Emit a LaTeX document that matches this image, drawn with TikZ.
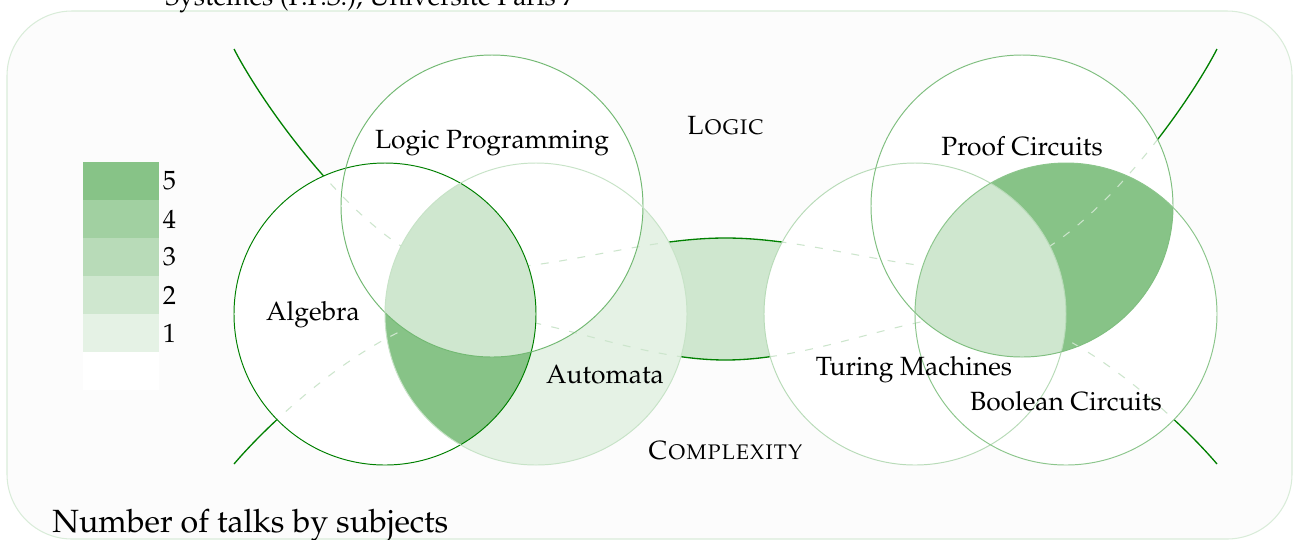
\documentclass[tikz,border=0pt]{standalone}
\usepackage[T1]{fontenc}
\usepackage{mathpazo}

\colorlet{talks}{green!50!black}
\colorlet{lvl0}{white}
\colorlet{lvl1}{talks!10!white}
\colorlet{lvl2}{talks!19!white}
\colorlet{lvl3}{talks!28!white}
\colorlet{lvl4}{talks!37!white}
\colorlet{lvl5}{talks!47!white}
\newcommand{\vennrad}{151}
% curvas de los dominios
\newcommand{\logicline}{(234,49) .. controls (268,115) and (380,268) .. (465,270)
    .. controls (560,270) and (640,238) .. (725.5,238)
    .. controls (811,238) and (891,270) .. (986,270)
    .. controls (1071,268) and (1183,115) .. (1217,49)}
\newcommand{\cplxline}{(234,464) .. controls (280,410) and (390,314) .. (465,314)
    .. controls (545,314) and (635,360) .. (725.5,360)
    .. controls (816,360) and (906,314) .. (986,314)
    .. controls (1061,314) and (1171,410) .. (1217,464)}

\begin{document}
\begin{tikzpicture}[x=0.02cm, y=-0.02cm,
    frame/.style={draw=talks!15!white, fill=black!1, line width=0.6pt, rounded corners=1.3cm},
    border/.style={draw=talks, line width=0.75pt},
    inner/.style={draw=talks!20!white, line width=0.6pt, dash pattern=on 4.5pt off 6pt},
    rim/.style={line width=0.55pt},
    lbl/.style={anchor=base, font=\fontsize{15}{18}\selectfont},
    key/.style={anchor=north west, minimum width=1.52cm, minimum height=0.76cm, inner sep=0pt, outer sep=0pt}]
    \useasboundingbox (0,0) rectangle (1296,539);

    % Marco
    \draw[frame] (7,11) rectangle (1292,539);
    \node[anchor=base west, inner sep=0pt, font=\fontsize{15}{18}\selectfont] (lab) at (165,5) {Syst\`emes (P.P.S.), Universit\'e Paris 7};

    % Centros de los círculos
    \coordinate (alg) at (385,314);
    \coordinate (aut) at (536,314);
    \coordinate (lp) at (492,206);
    \coordinate (tm) at (915,314);
    \coordinate (bc) at (1066,314);
    \coordinate (pc) at (1022,206);

    % Banda entre las dos curvas
    \begin{scope}
        \clip \logicline -- (1296,539) -- (0,539) -- cycle;
        \clip \cplxline -- (1296,0) -- (0,0) -- cycle;
        \fill[lvl2] (600,0) rectangle (850,539);
    \end{scope}

    % Curvas
    \draw[border] \logicline;
    \draw[border] \cplxline;

    % Círculos
    \fill[lvl1] (aut) circle[radius=\vennrad];
    \fill[white] (alg) circle[radius=\vennrad] (lp) circle[radius=\vennrad];
    \fill[white] (tm) circle[radius=\vennrad] (pc) circle[radius=\vennrad] (bc) circle[radius=\vennrad];

    % Intersecciones con 5 charlas
    \begin{scope}
        \clip (alg) circle[radius=\vennrad];
        \clip (aut) circle[radius=\vennrad];
        \fill[lvl5, even odd rule] (200,0) rectangle (700,539) (lp) circle[radius=\vennrad];
    \end{scope}
    \begin{scope}
        \clip (pc) circle[radius=\vennrad];
        \clip (bc) circle[radius=\vennrad];
        \fill[lvl5, even odd rule] (700,0) rectangle (1296,539) (tm) circle[radius=\vennrad];
    \end{scope}

    % Curvas dentro de los círculos
    \begin{scope}
        \clip (alg) circle[radius=\vennrad] (aut) circle[radius=\vennrad] (lp) circle[radius=\vennrad]
            (tm) circle[radius=\vennrad] (pc) circle[radius=\vennrad] (bc) circle[radius=\vennrad];
        \draw[inner] \logicline;
        \draw[inner] \cplxline;
    \end{scope}

    % Intersecciones triples
    \begin{scope}
        \clip (alg) circle[radius=\vennrad];
        \clip (aut) circle[radius=\vennrad];
        \fill[lvl2] (lp) circle[radius=\vennrad];
    \end{scope}
    \begin{scope}
        \clip (pc) circle[radius=\vennrad];
        \clip (bc) circle[radius=\vennrad];
        \fill[lvl2] (tm) circle[radius=\vennrad];
    \end{scope}

    % Bordes
    \draw[rim, draw=talks] (alg) circle[radius=\vennrad];
    \draw[rim, draw=talks!55!white] (lp) circle[radius=\vennrad];
    \draw[rim, draw=talks!22!white] (aut) circle[radius=\vennrad];
    \draw[rim, draw=talks!28!white] (tm) circle[radius=\vennrad];
    \draw[rim, draw=talks!50!white] (pc) circle[radius=\vennrad];
    \draw[rim, draw=talks!45!white] (bc) circle[radius=\vennrad];

    % Nombres
    \node[lbl] (alg-name) at (313,320) {Algebra};
    \node[lbl] (lp-name) at (492,148) {Logic Programming};
    \node[lbl] (aut-name) at (605,383) {Automata};
    \node[lbl] (tm-name) at (914,375) {Turing Machines};
    \node[lbl] (pc-name) at (1022,155) {Proof Circuits};
    \node[lbl] (bc-name) at (1066,410) {Boolean Circuits};
    \node[lbl] (logic) at (725.5,134) {\textsc{Logic}};
    \node[lbl] (cplx) at (725.5,459) {\textsc{Complexity}};

    % Leyenda
    \foreach \k in {0,...,5}
        \node[key, fill=lvl\k] (key\k) at (83,{162+38*(5-\k)}) {};
    \foreach \k in {1,...,5}
        \node[anchor=west, inner sep=2pt, font=\fontsize{15}{18}\selectfont] (num\k) at (key\k.east) {\k};

    \node[anchor=base west, inner sep=0pt, font=\fontsize{18.3}{22}\selectfont] (title) at (52,532) {Number of talks by subjects};
\end{tikzpicture}
\end{document}
